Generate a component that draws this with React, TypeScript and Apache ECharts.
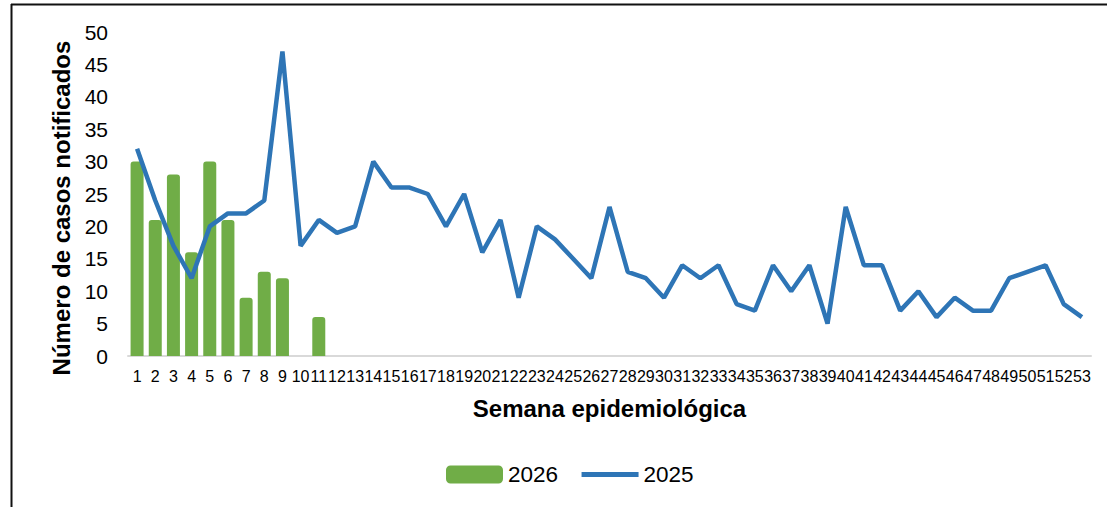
import React, { useEffect, useRef } from "react";
import * as echarts from "echarts";

const weeks: string[] = Array.from({ length: 53 }, (_, i) => String(i + 1));
const cases2026: (number | null)[] = [30, 21, 28, 16, 30, 21, 9, 13, 12, null, 6];
const cases2025: number[] = [
  32, 24, 17, 12, 20, 22, 22, 24, 47, 17,
  21, 19, 20, 30, 26, 26, 25, 20, 25, 16,
  21, 9, 20, 18, 15, 12, 23, 13, 12, 9,
  14, 12, 14, 8, 7, 14, 10, 14, 5, 23,
  14, 14, 7, 10, 6, 9, 7, 7, 12, 13,
  14, 8, 6,
];
const yTicks = { min: 0, max: 50, interval: 5 };
const seriesNames = ["2026", "2025"];
const yAxisTitle = "Número de casos notificados";
const xAxisTitle = "Semana epidemiológica";

const FONT = "'Liberation Sans', Arial, sans-serif";

export default function App() {
  const ref = useRef<HTMLDivElement>(null);
  useEffect(() => {
    if (!ref.current) return;
    const chart = echarts.init(ref.current, undefined, { renderer: "svg" });
    const barData = weeks.map((_, i) => (cases2026[i] == null ? "-" : cases2026[i]));
    chart.setOption({
      animation: false,
      backgroundColor: "#ffffff",
      textStyle: { fontFamily: FONT },
      grid: { left: 128, right: 16, top: 32, bottom: 151, containLabel: false },
      legend: {
        left: 441,
        top: 458,
        itemWidth: 57,
        itemHeight: 18,
        itemGap: 21,
        textStyle: { fontSize: 22.5, color: "#000", fontFamily: FONT },
        data: [
          { name: seriesNames[0], icon: "roundRect" },
          { name: seriesNames[1], itemStyle: { opacity: 0 }, lineStyle: { width: 5 } },
        ],
      },
      xAxis: {
        type: "category",
        data: weeks,
        boundaryGap: true,
        axisLine: { lineStyle: { color: "#d9d9d9", width: 2 } },
        axisTick: { show: false },
        axisLabel: { interval: 0, fontSize: 16, color: "#000", margin: 12, fontFamily: FONT },
        name: xAxisTitle,
        nameLocation: "middle",
        nameGap: 40,
        nameTextStyle: { fontSize: 24, fontWeight: "bold", color: "#000", fontFamily: FONT, verticalAlign: "top" },
      },
      yAxis: {
        type: "value",
        min: yTicks.min,
        max: yTicks.max,
        interval: yTicks.interval,
        splitLine: { show: false },
        axisLine: { show: false },
        axisTick: { show: false },
        axisLabel: { fontSize: 21, color: "#000", margin: 20, fontFamily: FONT },
        name: yAxisTitle,
        nameLocation: "middle",
        nameGap: 55,
        nameTextStyle: { fontSize: 24, fontWeight: "bold", color: "#000", fontFamily: FONT, padding: [0, 28, 0, 0] },
      },
      series: [
        {
          name: seriesNames[0],
          type: "bar",
          data: barData,
          barWidth: 13,
          itemStyle: { color: "#70ad47", borderRadius: [3, 3, 0, 0] },
        },
        {
          name: seriesNames[1],
          type: "line",
          data: cases2025,
          symbol: "none",
          lineStyle: { color: "#2e75b6", width: 4.5 },
          itemStyle: { color: "#2e75b6" },
        },
      ],
      graphic: [
        { type: "line", shape: { x1: 11, y1: 4.5, x2: 1107, y2: 4.5 }, style: { stroke: "#111", lineWidth: 2 } },
        { type: "line", shape: { x1: 11.5, y1: 4, x2: 11.5, y2: 507 }, style: { stroke: "#111", lineWidth: 2 } },
      ],
    });
    return () => chart.dispose();
  }, []);
  return (
    <div
      ref={ref}
      style={{ position: "absolute", left: 0, top: 0, width: 1107, height: 507 }}
    />
  );
}
